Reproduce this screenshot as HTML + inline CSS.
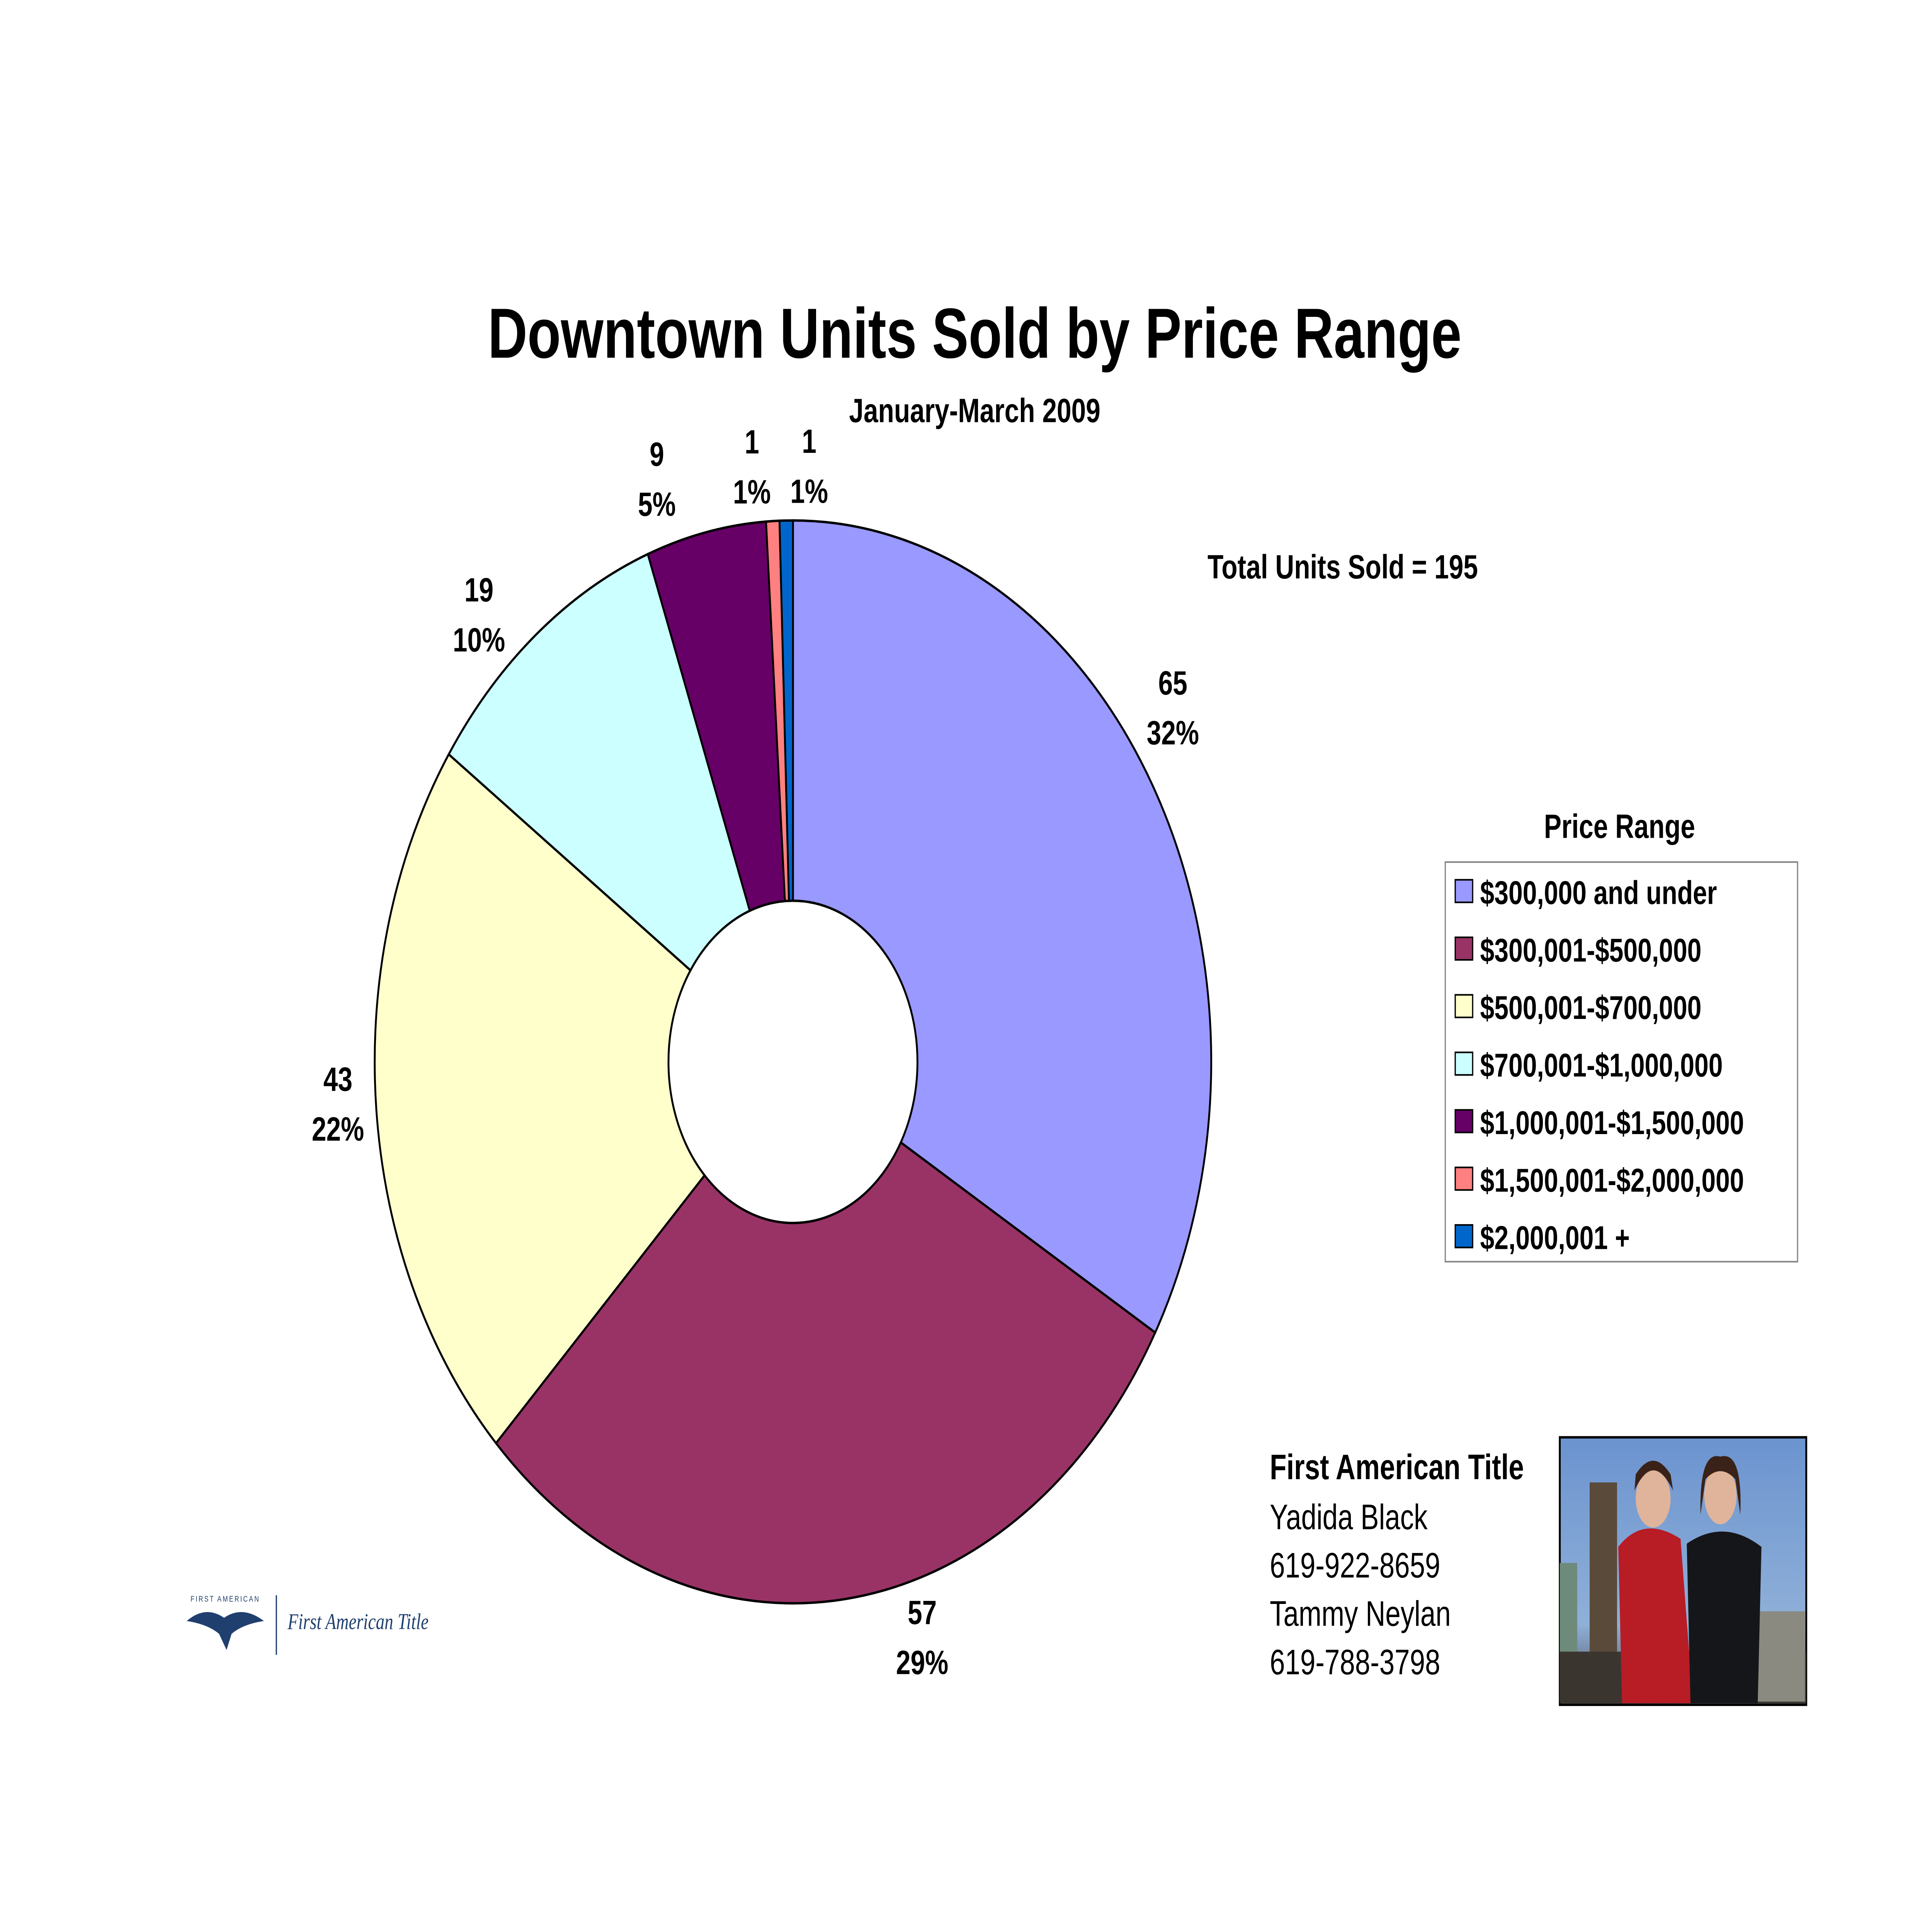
<!DOCTYPE html>
<html><head><meta charset="utf-8"><title>Downtown Units Sold by Price Range</title>
<style>
html,body{margin:0;padding:0;background:#fff;width:100vw;height:100vh;overflow:hidden}
#wrap{position:absolute;left:0;top:0;width:100vw;height:100vh;overflow:hidden}
svg{display:block;width:100vw;height:100vh}
</style></head>
<body>
<div id="wrap">
<svg id="chart" xmlns="http://www.w3.org/2000/svg" viewBox="0 0 1552 1199" preserveAspectRatio="none" font-family="Liberation Sans, Arial, sans-serif">
<rect width="1552" height="1199" fill="#fff"/>
<text x="783" y="222" text-anchor="middle" font-size="44" font-weight="bold">Downtown Units Sold by Price Range</text>
<text x="783" y="262" text-anchor="middle" font-size="21" font-weight="bold">January-March 2009</text>
<text x="970" y="359" font-size="21" font-weight="bold">Total Units Sold = 195</text>
<g id="pie"></g>
<g id="labels" font-size="21" font-weight="bold" text-anchor="middle"></g>
<text x="1301" y="520" text-anchor="middle" font-size="21" font-weight="bold">Price Range</text>
<rect x="1161" y="535" width="283" height="248" fill="#fff" stroke="#888" stroke-width="1"/>
<g id="legend" font-size="20.5" font-weight="bold"></g>

<g font-size="22">
<text x="1020" y="918" font-weight="bold">First American Title</text>
<text x="1020" y="949">Yadida Black</text>
<text x="1020" y="979">619-922-8659</text>
<text x="1020" y="1009">Tammy Neylan</text>
<text x="1020" y="1039">619-788-3798</text>
</g>

<g>
<defs><linearGradient id="sky" x1="0" y1="0" x2="0" y2="1"><stop offset="0" stop-color="#6b93cf"/><stop offset="0.7" stop-color="#8fb0d8"/><stop offset="1" stop-color="#4a4a50"/></linearGradient></defs>
<rect x="1253" y="892" width="198" height="166" fill="url(#sky)" stroke="#000" stroke-width="1.5"/>
<rect x="1277" y="920" width="22" height="136" fill="#5a4a3a"/>
<rect x="1253" y="970" width="14" height="86" fill="#6d8a7a"/>
<rect x="1253" y="1025" width="198" height="32" fill="#3b3530"/>
<rect x="1410" y="1000" width="40" height="56" fill="#8a8a80"/>
<path d="M1300 960 Q1320 940 1350 955 L1360 1057 L1303 1057 Z" fill="#b81c24"/>
<ellipse cx="1328" cy="930" rx="14" ry="18" fill="#e0b49a"/>
<path d="M1313 925 Q1328 900 1344 925 L1342 915 Q1328 898 1314 915 Z" fill="#3a2218"/>
<path d="M1355 958 Q1385 942 1415 960 L1412 1057 L1358 1057 Z" fill="#15161a"/>
<ellipse cx="1382" cy="928" rx="13" ry="18" fill="#e0b49a"/>
<path d="M1366 940 Q1365 900 1382 904 Q1400 900 1398 940 L1394 918 Q1382 908 1370 918 Z" fill="#3a2218"/>
</g>

<g>
<path d="M150 1006 Q165 996 180 1004 Q195 996 212 1006 Q195 1008 186 1014 L182 1024 L176 1014 Q167 1008 150 1006 Z" fill="#1f3f6e"/>
<text x="181" y="994" text-anchor="middle" font-size="5" fill="#1f3f6e" letter-spacing="1">FIRST AMERICAN</text>
<line x1="222" y1="990" x2="222" y2="1027" stroke="#1f3f6e" stroke-width="1"/>
<text x="231" y="1011" font-family="Liberation Serif, serif" font-style="italic" font-size="14" fill="#1f3f6e">First American Title</text>
</g>
</svg>
</div>
<script>
const categories = ["$300,000 and under","$300,001-$500,000","$500,001-$700,000","$700,001-$1,000,000","$1,000,001-$1,500,000","$1,500,001-$2,000,000","$2,000,001 +"];
const units = [65, 57, 43, 19, 9, 1, 1];
const percentLabels = ["32%","29%","22%","10%","5%","1%","1%"];
const colors = ["#9999FF","#993366","#FFFFCC","#CCFFFF","#660066","#FF8080","#0066CC"];
const labelNudgeX = [-17,56,5,-24,-32,-15,19];
const labelNudgeY = [-36,-14,-9,14,0,0,0];

const NS = "http://www.w3.org/2000/svg";
const cx = 637, cy = 659, R = 336, r0 = 100, LR = 372;
const total = units.reduce((a,b)=>a+b,0);
function angle(v){ return v/total*2*Math.PI; }
function pt(a, rad){ return [cx + rad*Math.sin(a), cy - rad*Math.cos(a)]; }
const pie = document.getElementById('pie');
const labels = document.getElementById('labels');
const legend = document.getElementById('legend');
let cum = 0;
units.forEach((v,i)=>{
  const a0 = angle(cum), a1 = angle(cum+v);
  cum += v;
  const [x0,y0] = pt(a0,R), [x1,y1] = pt(a1,R);
  const large = (a1-a0) > Math.PI ? 1 : 0;
  const p = document.createElementNS(NS,'path');
  p.setAttribute('d', `M${cx} ${cy} L${x0} ${y0} A${R} ${R} 0 ${large} 1 ${x1} ${y1} Z`);
  p.setAttribute('fill', colors[i]);
  p.setAttribute('stroke', '#000');
  p.setAttribute('stroke-width', '1.5');
  
  
  pie.appendChild(p);
  const am = (a0+a1)/2;
  const [px,py] = pt(am, LR);
  const lx = px + labelNudgeX[i], ly = py + labelNudgeY[i];
  const t = document.createElementNS(NS,'text');
  t.setAttribute('x', lx);
  t.setAttribute('y', ly - 6);
  
  
  t.innerHTML = `<tspan x="${lx}" dy="0">${units[i]}</tspan><tspan x="${lx}" dy="31">${percentLabels[i]}</tspan>`;
  labels.appendChild(t);
  const y = 553 + i*35.7;
  const sw = document.createElementNS(NS,'rect');
  sw.setAttribute('x', 1169); sw.setAttribute('y', y-7);
  sw.setAttribute('width', 14); sw.setAttribute('height', 14);
  sw.setAttribute('fill', colors[i]); sw.setAttribute('stroke', '#000'); sw.setAttribute('stroke-width', '1');
  
  
  legend.appendChild(sw);
  const lt = document.createElementNS(NS,'text');
  lt.setAttribute('x', 1189); lt.setAttribute('y', y+8);
  lt.textContent = categories[i];
  
  
  legend.appendChild(lt);
});
const hole = document.createElementNS(NS,'circle');
hole.setAttribute('cx', cx); hole.setAttribute('cy', cy); hole.setAttribute('r', r0);
hole.setAttribute('fill', '#fff'); hole.setAttribute('stroke', '#000'); hole.setAttribute('stroke-width', '1.5');


pie.appendChild(hole);
</script>
</body></html>
